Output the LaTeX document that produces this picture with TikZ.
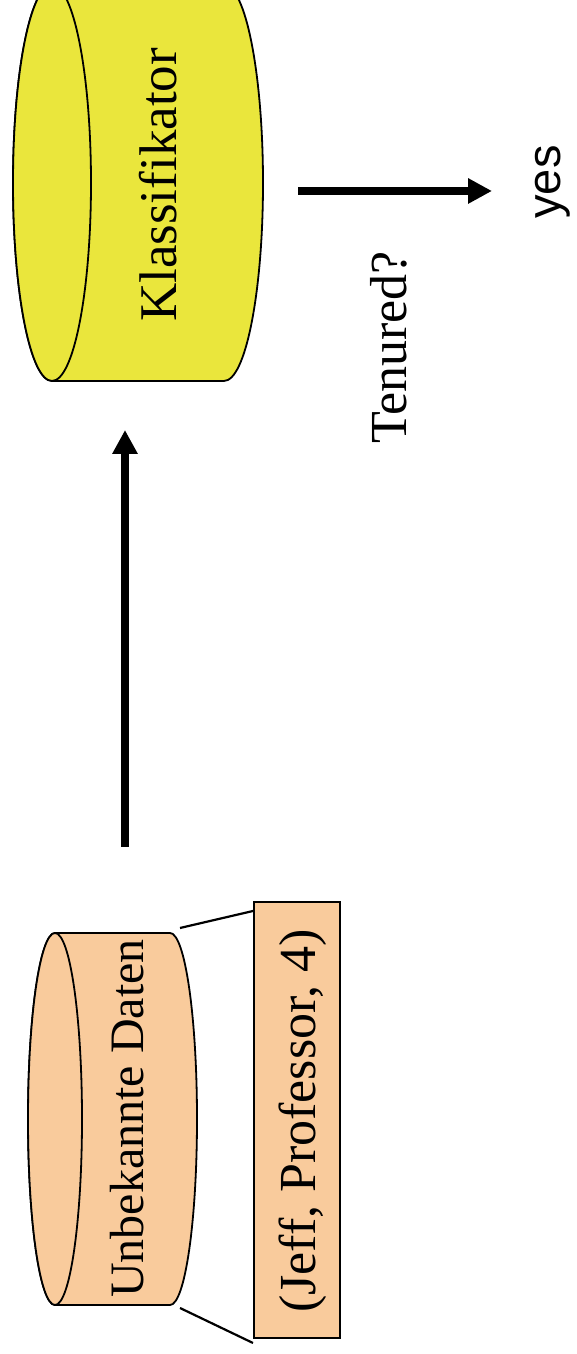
\documentclass[tikz,border=0pt]{standalone}
\usepackage{fontspec}
\setmainfont{Liberation Serif}
\newfontfamily\yesfont{Liberation Sans}
\usetikzlibrary{arrows.meta}
\definecolor{cylyellow}{RGB}{234,230,60}
\definecolor{cylorange}{RGB}{249,203,156}
\tikzset{
  outline/.style={draw=black, line width=1.8pt},
  bigarrow/.style={line width=8pt, -{Triangle[length=24pt,width=24pt]}},
  vtext/.style={rotate=90, inner sep=0pt, anchor=center},
}
\begin{document}
\begin{tikzpicture}[x=1pt,y=1pt]
\useasboundingbox (0,0) rectangle (576,1354);
\clip (0,0) rectangle (576,1354);
% Klassifikator cylinder
\path[outline, fill=cylyellow] (52,1369) -- (224,1369)
  arc[start angle=90, end angle=-90, x radius=39, y radius=198]
  -- (52,973)
  arc[start angle=270, end angle=90, x radius=39, y radius=198] -- cycle;
\draw[outline, fill=cylyellow] (52,1171) ellipse [x radius=39, y radius=198];
\node[vtext] (klass) at (158,1169) {\fontsize{53}{60}\selectfont Klassifikator};
% Unbekannte Daten cylinder
\path[outline, fill=cylorange] (55,421) -- (170,421)
  arc[start angle=90, end angle=-90, x radius=27, y radius=186]
  -- (55,49)
  arc[start angle=270, end angle=90, x radius=27, y radius=186] -- cycle;
\draw[outline, fill=cylorange] (55,235) ellipse [x radius=27, y radius=186];
\node[vtext] (unbek) at (127,235.5) {\fontsize{48}{54}\selectfont Unbekannte Daten};
% record box
\node[outline, line width=2.2pt, fill=cylorange, minimum width=86pt, minimum height=436pt, inner sep=0pt] (rec) at (297,234) {};
\node[vtext] (rectext) at (303,233) {\fontsize{52}{60}\selectfont (Jeff, Professor, 4)};
% connecting lines
\coordinate (ctop) at (180,426);
\coordinate (cbot) at (180,46);
\coordinate (rtop) at (253,443);
\coordinate (rbot) at (253,11);
\draw[line width=2.2pt] (ctop) -- (rtop);
\draw[line width=2.2pt] (cbot) -- (rbot);
% vertical arrow
\coordinate (va) at (125,507);
\coordinate (vb) at (125,924);
\draw[bigarrow] (va) -- (vb);
% horizontal arrow
\coordinate (ha) at (298,1163);
\coordinate (hb) at (492,1163);
\draw[bigarrow] (ha) -- (hb);
% labels
\node[vtext] (ten) at (389,1006.5) {\fontsize{52}{58}\selectfont Tenured?};
\node[vtext] (yes) at (553,1172) {\yesfont\fontsize{47}{54}\selectfont yes};
\end{tikzpicture}
\end{document}
